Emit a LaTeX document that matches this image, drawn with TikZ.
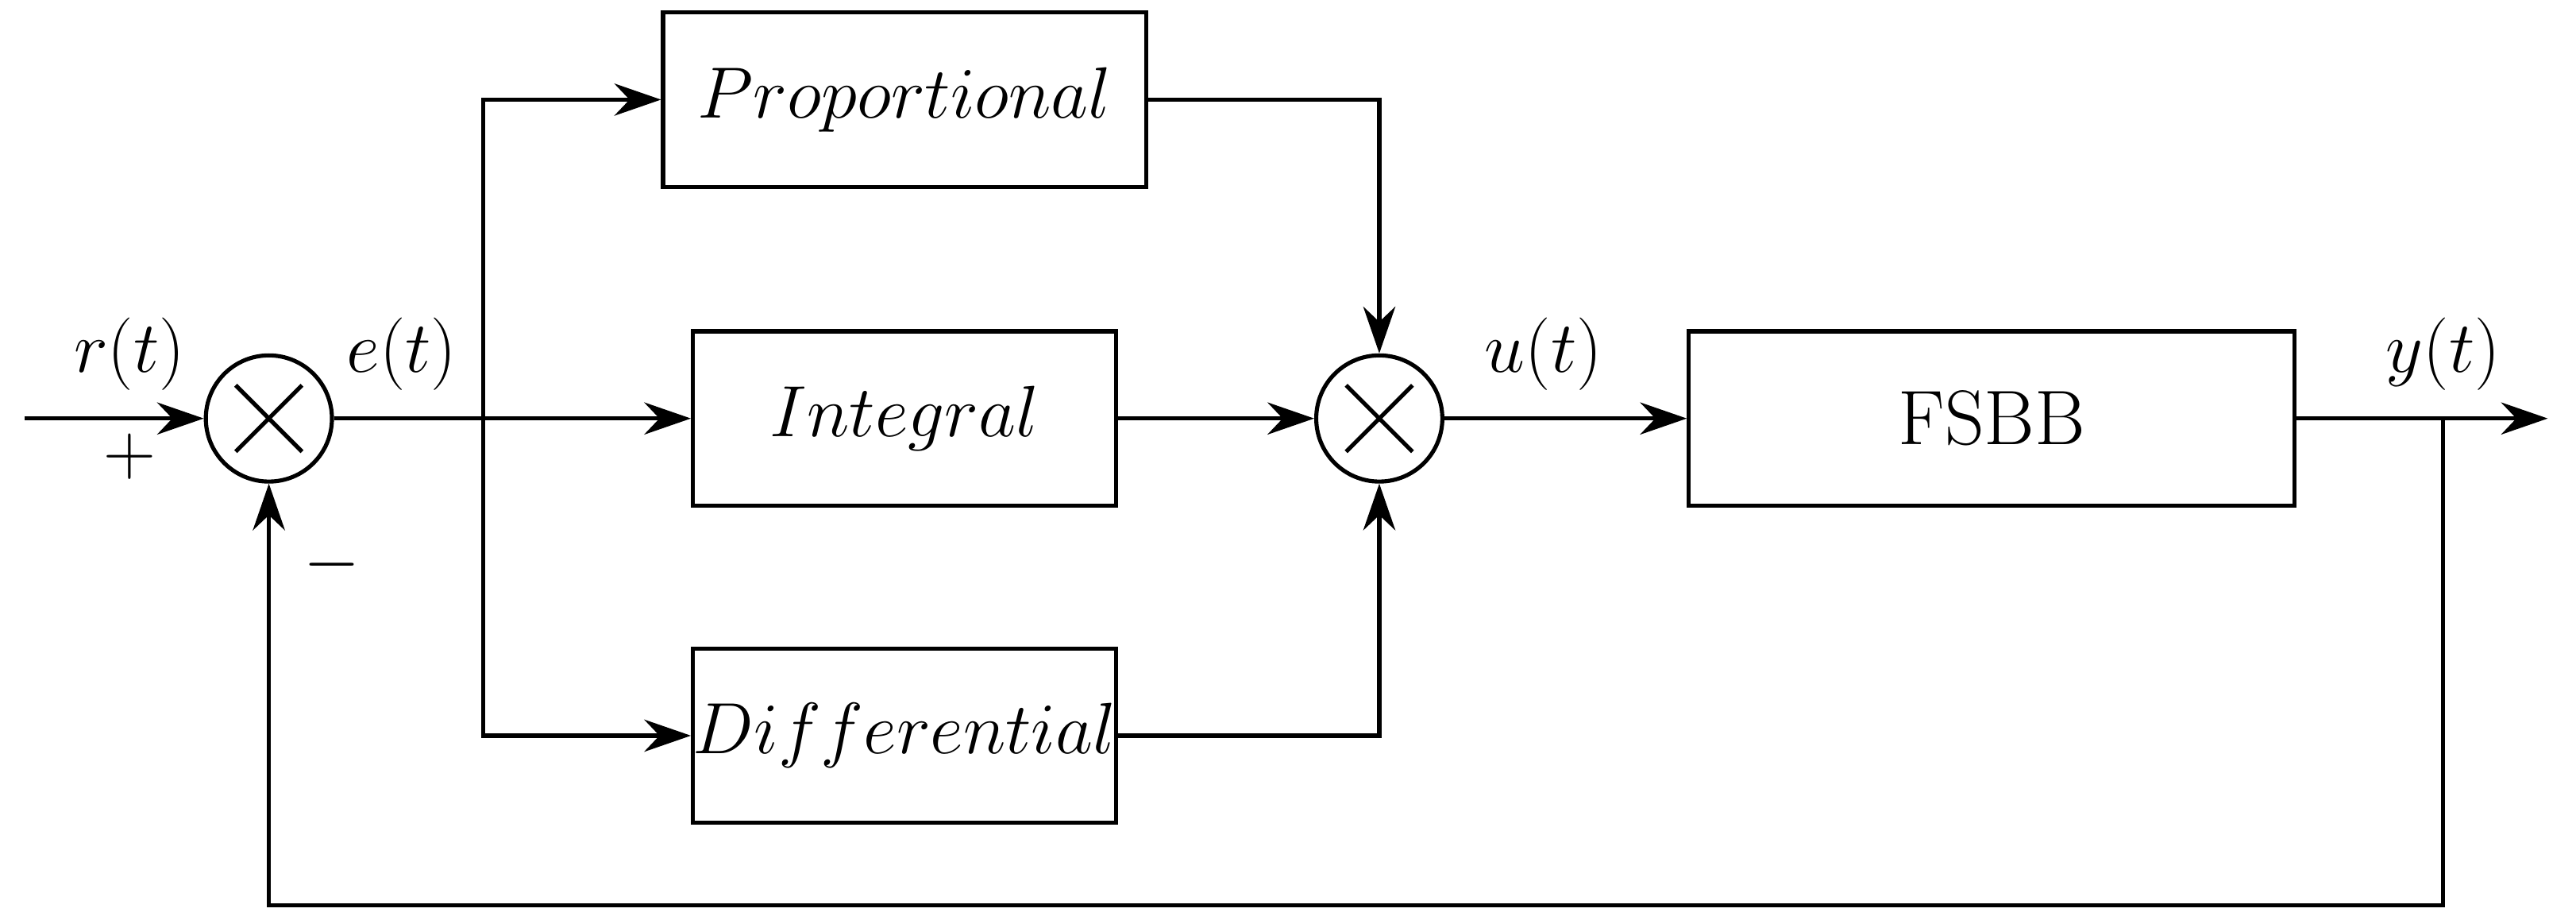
\documentclass[tikz,border=0pt]{standalone}
\usetikzlibrary{arrows.meta}
\begin{document}
\begin{tikzpicture}[x=0.02cm,y=-0.02cm,
  line width=1.4pt,
  every node/.style={font=\fontsize{26.5}{30}\selectfont},
  blk/.style={draw,minimum width=#1*0.02cm,minimum height=2.1cm,inner sep=0pt},
  sumc/.style={draw,circle,minimum size=1.52cm,inner sep=0pt},
  arr/.style={-{Stealth[length=16pt,width=11pt]}},
  lbl/.style={inner sep=0pt}]
\useasboundingbox (0,0) rectangle (1552,554);
\node[sumc] (s1) at (162,252) {};
\node[sumc] (s2) at (831,252) {};
\foreach \s in {s1,s2}{
  \draw (\s.center) ++(-20,-20) -- ++(40,40);
  \draw (\s.center) ++(-20,20) -- ++(40,-40);
}
\node[blk=291] (P) at (545,60) {$Proportional$};
\node[blk=255] (I) at (545,252) {$Integral$};
\node[blk=255] (D) at (545,443) {$Differential$};
\node[blk=365] (F) at (1200,252) {FSBB};
\coordinate (in) at (15,252);
\coordinate (br) at (291,252);
\coordinate (yb) at (1472,252);
\coordinate (out) at (1535,252);
\coordinate (bot) at (1472,545);
\draw[arr] (in) -- (s1.west);
\draw (s1.east) -- (br);
\draw[arr] (br) -- (I.west);
\draw[arr] (br) |- (P.west);
\draw[arr] (br) |- (D.west);
\draw[arr] (P.east) -| (s2.north);
\draw[arr] (I.east) -- (s2.west);
\draw[arr] (D.east) -| (s2.south);
\draw[arr] (s2.east) -- (F.west);
\draw[arr] (F.east) -- (out);
\draw[arr] (yb) -- (bot) -| (s1.south);
\node[lbl] (r) at (78,213) {$r(t)$};
\node[lbl] (pl) at (78,275) {$+$};
\node[lbl] (mi) at (200,340) {$-$};
\node[lbl] (e) at (242,213) {$e(t)$};
\node[lbl] (u) at (930,213) {$u(t)$};
\node[lbl] (y) at (1472,213) {$y(t)$};
\end{tikzpicture}
\end{document}
